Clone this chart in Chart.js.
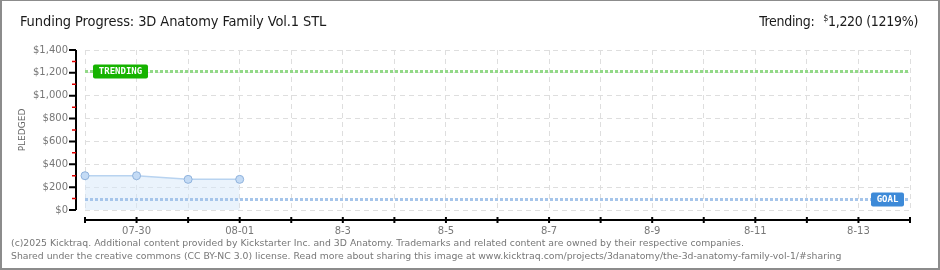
<!DOCTYPE html>
<html>
<head>
<meta charset="utf-8">
<script src="https://cdn.jsdelivr.net/npm/chart.js@4/dist/chart.umd.min.js"></script>
<style>
  body { margin: 0; background: #fff; }
  #frame { position: absolute; left: 0; top: 0; width: 936px; height: 267px; border: 2px solid #8c8c8c; border-top-width: 1px; background: #fff; }
  #chart { position: absolute; left: 0; top: 0; }
  #title { position: absolute; left: 20px; top: 13px; font: 14.5px "DejaVu Sans Condensed", "DejaVu Sans", sans-serif; color: #1a1a1a; letter-spacing: -0.1px; }
  #trend { position: absolute; right: 22px; top: 13px; font: 14px "DejaVu Sans Condensed", "DejaVu Sans", sans-serif; color: #1a1a1a; letter-spacing: -0.3px; }
  #trend sup { font-size: 9px; vertical-align: 5px; margin-left: 5px; }
  #foot { position: absolute; left: 11px; top: 236px; font: 9.3px "DejaVu Sans", sans-serif; color: #777; line-height: 13px; white-space: nowrap; }
</style>
</head>
<body>
<div id="frame"></div>
<canvas id="chart" width="940" height="270"></canvas>
<div id="title">Funding Progress: 3D Anatomy Family Vol.1 STL</div>
<div id="trend">Trending: <sup>$</sup>1,220 (1219%)</div>
<div id="foot">(c)2025 Kicktraq. Additional content provided by Kickstarter Inc. and 3D Anatomy. Trademarks and related content are owned by their respective companies.<br>Shared under the creative commons (CC BY-NC 3.0) license. Read more about sharing this image at www.kicktraq.com/projects/3danatomy/the-3d-anatomy-family-vol-1/#sharing</div>
<script>
// dagen op de x-as
const days = ["07-29", "07-30", "07-31", "08-01", "8-2", "8-3", "8-4", "8-5", "8-6",
  "8-7", "8-8", "8-9", "8-10", "8-11", "8-12", "8-13", "8-14"];
// alleen deze krijgen een label
const shownLabels = ["07-30", "08-01", "8-3", "8-5", "8-7", "8-9", "8-11", "8-13"];
// opgehaald bedrag per dag (alleen de eerste 4 dagen)
const pledged = [300, 300, 268, 268];
const yTicks = [0, 200, 400, 600, 800, 1000, 1200, 1400];
const goal = 100;
const trending = 1220;

// lijnen + labels voor goal/trending en de losse assen
const extras = {
  id: "extras",
  afterDatasetsDraw(chart) {
    const { ctx, chartArea: a, scales: { x, y } } = chart;

    function refLine(val, color, label, boxColor, boxOnLeft, boxW) {
      const py = Math.round(y.getPixelForValue(val)) + 0.5;
      ctx.save();
      ctx.strokeStyle = color;
      ctx.lineWidth = 3;
      ctx.setLineDash([3, 2]);
      ctx.beginPath();
      ctx.moveTo(a.left, py);
      ctx.lineTo(a.right, py);
      ctx.stroke();
      ctx.setLineDash([]);
      const bx = boxOnLeft ? a.left + 8 : a.right - 6 - boxW;
      ctx.fillStyle = boxColor;
      ctx.beginPath();
      ctx.roundRect(bx, py - 7, boxW, 14, 2);
      ctx.fill();
      ctx.fillStyle = "#fff";
      ctx.font = "bold 9px 'DejaVu Sans Mono', monospace";
      ctx.textBaseline = "middle";
      ctx.textAlign = "center";
      ctx.fillText(label, bx + boxW / 2, py + 0.5);
      ctx.restore();
    }
    refLine(trending, "#92d987", "TRENDING", "#16b300", true, 55);
    refLine(goal, "#a6c5ea", "GOAL", "#3d8ad8", false, 33);

    // assen
    const axX = a.left - 9;
    const axY = a.bottom + 10;
    ctx.save();
    ctx.strokeStyle = "#000";
    ctx.lineWidth = 2;
    ctx.beginPath();
    ctx.moveTo(axX, a.top);
    ctx.lineTo(axX, a.bottom);
    yTicks.forEach(v => {
      const py = y.getPixelForValue(v);
      ctx.moveTo(axX - 7, py);
      ctx.lineTo(axX, py);
    });
    ctx.moveTo(a.left, axY);
    ctx.lineTo(a.right, axY);
    days.forEach((d, i) => {
      const px = x.getPixelForValue(i);
      ctx.moveTo(px, axY - 3);
      ctx.lineTo(px, axY + 3);
    });
    ctx.stroke();
    // rode tussentikjes
    ctx.strokeStyle = "#e00000";
    ctx.lineWidth = 1.5;
    ctx.beginPath();
    for (let i = 0; i < yTicks.length - 1; i++) {
      const py = y.getPixelForValue((yTicks[i] + yTicks[i + 1]) / 2);
      ctx.moveTo(axX - 4, py);
      ctx.lineTo(axX, py);
    }
    ctx.stroke();
    ctx.restore();
  }
};

const ctx = document.getElementById("chart").getContext("2d");
const chart = new Chart(ctx, {
  type: "line",
  data: {
    labels: days,
    datasets: [{
      label: "Pledged",
      data: pledged,
      borderColor: "#b8d3f0",
      borderWidth: 1.5,
      backgroundColor: "rgba(214, 232, 250, 0.5)",
      fill: "origin",
      tension: 0,
      pointRadius: 4,
      pointBackgroundColor: "#c4dbf5",
      pointBorderColor: "#8fb2dc",
      pointBorderWidth: 1
    }]
  },
  options: {
    responsive: false,
    animation: false,
    layout: { padding: { left: 0, top: 50, right: 30, bottom: 0 } },
    plugins: { legend: { display: false }, tooltip: { enabled: false } },
    scales: {
      x: {
        offset: false,
        afterFit(s) { s.height = 60; },
        grid: { color: "#dedede", drawTicks: false },
        border: { display: false, dash: [5, 4] },
        ticks: {
          autoSkip: false,
          maxRotation: 0,
          padding: 15,
          color: "#777",
          font: { family: "DejaVu Sans", size: 10 },
          callback(v, i) { return shownLabels.includes(days[i]) ? days[i] : ""; }
        }
      },
      y: {
        min: 0,
        max: 1400,
        afterFit(s) { s.width = 85; },
        afterBuildTicks(s) { s.ticks = yTicks.map(v => ({ value: v })); },
        grid: { color: "#dedede", drawTicks: false },
        border: { display: false, dash: [5, 4] },
        title: {
          display: true,
          text: "PLEDGED",
          color: "#666",
          font: { family: "DejaVu Sans", size: 9 },
          padding: { top: 17, bottom: 0 }
        },
        ticks: {
          padding: 17,
          color: "#777",
          font: { family: "DejaVu Sans", size: 10 },
          callback(v) { return "$" + v.toLocaleString("en-US"); }
        }
      }
    }
  },
  plugins: [extras]
});
</script>
</body>
</html>
